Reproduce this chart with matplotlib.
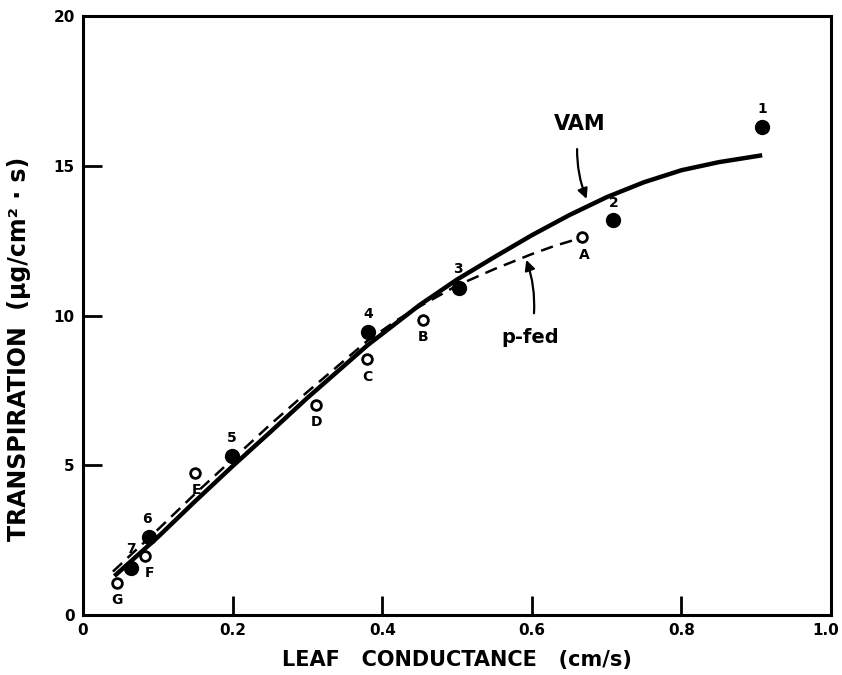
import matplotlib
matplotlib.use("Agg")
import matplotlib.pyplot as plt
from matplotlib.transforms import offset_copy

plt.rcParams['font.family'] = ['DejaVu Sans']

# Filled points (VAM), labels 1-7
vam_x = [0.908, 0.709, 0.503, 0.381, 0.199, 0.088, 0.064]
vam_y = [16.29, 13.19, 10.92, 9.45, 5.31, 2.60, 1.57]
vam_lab = ['1', '2', '3', '4', '5', '6', '7']

# Open points (p-fed), labels A-G
pf_x = [0.667, 0.4545, 0.380, 0.3115, 0.150, 0.083, 0.0455]
pf_y = [12.62, 9.85, 8.55, 7.01, 4.74, 1.97, 1.07]
pf_lab = ['A', 'B', 'C', 'D', 'E', 'F', 'G']

# VAM curve (solid)
vc_x = [0.042, 0.10, 0.15, 0.20, 0.25, 0.30, 0.38, 0.45, 0.50, 0.55, 0.60,
        0.65, 0.70, 0.75, 0.80, 0.85, 0.908]
vc_y = [1.30, 2.60, 3.80, 4.97, 6.10, 7.25, 9.00, 10.35, 11.20, 11.95, 12.68,
        13.35, 13.95, 14.45, 14.85, 15.12, 15.35]

# p-fed curve (dashed)
pc_x = [0.040, 0.10, 0.15, 0.20, 0.25, 0.30, 0.38, 0.42, 0.45, 0.50, 0.55,
        0.60, 0.63, 0.667]
pc_y = [1.45, 2.85, 4.05, 5.20, 6.35, 7.45, 9.15, 9.85, 10.30, 11.00, 11.55,
        12.05, 12.32, 12.60]

xticks = [0, 0.2, 0.4, 0.6, 0.8, 1.0]
xtick_labels = ['0', '0.2', '0.4', '0.6', '0.8', '1.0']
yticks = [0, 5, 10, 15, 20]
ytick_labels = ['0', '5', '10', '15', '20']

fig = plt.figure(figsize=(8.42, 6.75), dpi=100)
ax = fig.add_axes([83/842, 60/675, 748/842, 599/675])

ax.plot(vc_x, vc_y, color='black', lw=3.2, solid_capstyle='butt',
        solid_joinstyle='round', zorder=2)
ax.plot(pc_x, pc_y, color='black', lw=1.8, dashes=(5, 3), zorder=2)

ax.plot(vam_x, vam_y, 'o', color='black', ms=10, zorder=3)
ax.plot(pf_x, pf_y, 'o', mfc='white', mec='black', ms=7, mew=2, zorder=3)

lab_font = dict(fontsize=10, fontweight='bold', ha='center', va='center')
up_off = {'1': (0, 13), '2': (0, 12), '3': (-1, 14), '4': (0, 13), '5': (0, 13),
          '6': (-1, 13), '7': (0, 14)}
for x, y, t in zip(vam_x, vam_y, vam_lab):
    ax.annotate(t, (x, y), xytext=up_off[t], textcoords='offset points', **lab_font)
dn_off = {'A': (2, -13), 'B': (0, -12), 'C': (0, -13), 'D': (0, -12), 'E': (1, -12),
          'F': (3, -12), 'G': (0, -12)}
for x, y, t in zip(pf_x, pf_y, pf_lab):
    ax.annotate(t, (x, y), xytext=dn_off[t], textcoords='offset points', **lab_font)

ax.annotate('VAM', xy=(0.674, 13.85), xytext=(0.664, 16.4),
            fontsize=15, fontweight='bold', ha='center', va='center',
            arrowprops=dict(arrowstyle='-|>', color='black', lw=1.6,
                            connectionstyle='arc3,rad=0.15', shrinkA=9, shrinkB=1,
                            mutation_scale=15))
ax.annotate('p-fed', xy=(0.592, 11.9), xytext=(0.598, 9.25),
            fontsize=14, fontweight='bold', ha='center', va='center',
            arrowprops=dict(arrowstyle='-|>', color='black', lw=1.6,
                            connectionstyle='arc3,rad=0.15', shrinkA=9, shrinkB=1,
                            mutation_scale=15))

ax.set_xlim(0, 1.0)
ax.set_ylim(0, 20)
ax.set_xticks(xticks)
ax.set_xticklabels(xtick_labels)
ax.set_yticks(yticks)
ax.set_yticklabels(ytick_labels)
ax.tick_params(direction='in', length=14, width=2, labelsize=11, pad=6)
for lab in ax.get_xticklabels() + ax.get_yticklabels():
    lab.set_fontweight('bold')
last = ax.get_xticklabels()[-1]
last.set_transform(offset_copy(last.get_transform(), fig=fig, x=-5, y=0, units='dots'))
for s in ax.spines.values():
    s.set_linewidth(2.2)

ax.set_xlabel('LEAF   CONDUCTANCE   (cm/s)', fontsize=15, fontweight='bold')
ax.xaxis.set_label_coords(0.5, -0.058)
ax.xaxis.label.set_va('top')
ax.set_ylabel('TRANSPIRATION  (µg/cm² · s)', fontsize=17, fontweight='bold')
ax.yaxis.set_label_coords(-0.07, 0.444)

fig.savefig('out.png', dpi=100)
